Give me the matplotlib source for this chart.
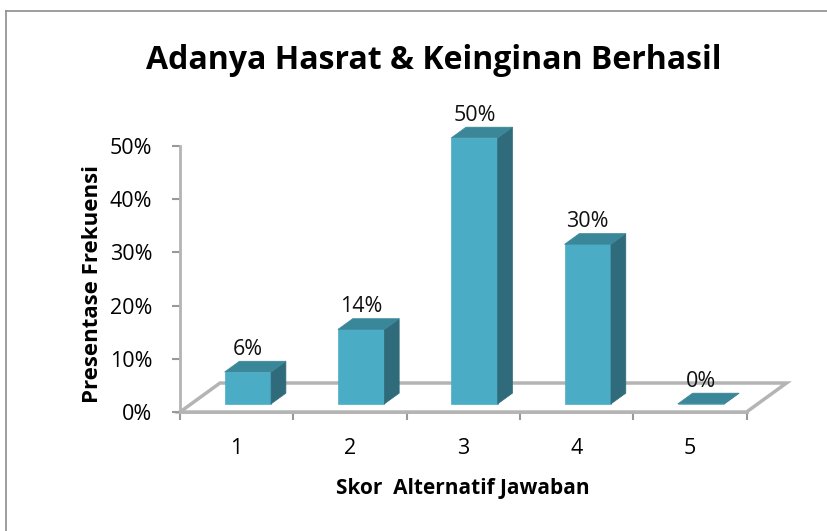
import matplotlib.pyplot as plt
from matplotlib.lines import Line2D
from matplotlib.patches import Polygon
from matplotlib.ticker import FuncFormatter

plt.rcParams["font.family"] = ["Open Sans", "DejaVu Sans"]

title = "Adanya Hasrat & Keinginan Berhasil"
categories = ["1", "2", "3", "4", "5"]
values = [6, 14, 50, 30, 0]
y_ticks = [0, 10, 20, 30, 40, 50]
x_label = "Skor  Alternatif Jawaban"
y_label = "Presentase Frekuensi"

# fake 3D: depth offset of the floor (x in category units, y in percent)
DX, DY = 0.353, 5.45
D_FRONT, D_BACK = 0.28, 0.65
BAR_W = 0.41

front_col = "#4bacc6"
top_col = "#3a8799"
side_col = "#2f6b7b"
line_col = "#b4b4b4"

fig = plt.figure(figsize=(8.28, 5.31), dpi=100)
ax = fig.add_axes([0.2174, 0.2241, 0.7526, 0.551])
ax.set_xlim(-0.5, 5.0)
ax.set_ylim(0, 55)

# floor
n = len(categories)
floor = [(-0.5, 0), (n - 0.5, 0), (n - 0.5 + DX, DY), (-0.5 + DX, DY)]
ax.add_patch(Polygon(floor, closed=True, facecolor="white",
                     edgecolor=line_col, lw=2.5, clip_on=False, zorder=1))

# bars
dd = D_BACK - D_FRONT
for i, v in enumerate(values):
    x0 = i - BAR_W / 2 + D_FRONT * DX
    y0 = D_FRONT * DY
    x1 = x0 + BAR_W
    front = [(x0, y0), (x1, y0), (x1, y0 + v), (x0, y0 + v)]
    side = [(x1, y0), (x1 + dd * DX, y0 + dd * DY),
            (x1 + dd * DX, y0 + v + dd * DY), (x1, y0 + v)]
    top = [(x0, y0 + v), (x1, y0 + v),
           (x1 + dd * DX, y0 + v + dd * DY), (x0 + dd * DX, y0 + v + dd * DY)]
    for poly, col in [(front, front_col), (side, side_col), (top, top_col)]:
        ax.add_patch(Polygon(poly, closed=True, facecolor=col,
                             edgecolor=col, lw=0.5, clip_on=False, zorder=3))
    ax.annotate(f"{v}%", xy=(i + D_FRONT * DX, v + D_BACK * DY),
                xytext=(0, 1), textcoords="offset points",
                ha="center", va="bottom", fontsize=15.5, color="#111111",
                zorder=4)

# axes lines and ticks
for s in ["top", "right"]:
    ax.spines[s].set_visible(False)
ax.spines["left"].set_bounds(0, 50)
ax.spines["bottom"].set_bounds(-0.5, n - 0.5)
for s in ["left", "bottom"]:
    ax.spines[s].set_color(line_col)
    ax.spines[s].set_linewidth(2.0)
    ax.spines[s].set_zorder(2)

ax.set_yticks(y_ticks)
ax.yaxis.set_major_formatter(FuncFormatter(lambda v, p: f"{v:.0f}%"))
ax.tick_params(axis="y", length=6, width=1.5, color="#999999",
               labelsize=15.5, pad=14)

ax.set_xticks(range(n))
ax.set_xticklabels(categories)
ax.set_xticks([i - 0.5 for i in range(n + 1)], minor=True)
ax.tick_params(axis="x", which="major", length=0, labelsize=15.5, pad=19)
ax.tick_params(axis="x", which="minor", length=6, width=1.5, color="#999999")

ax.text((n - 1) / 2, -0.26, x_label, transform=ax.get_xaxis_transform(),
        ha="center", va="center", fontsize=15, fontweight="bold")
ax.text(-0.141, 24, y_label, transform=ax.get_yaxis_transform(),
        ha="center", va="center", rotation=90, fontsize=16, fontweight="bold")

fig.text(0.524, 0.887, title, ha="center", va="center",
         fontsize=23, fontweight="bold")

# chart border (top and left edges visible in the crop)
fig.add_artist(Line2D([6 / 828, 1], [1 - 11 / 531] * 2, color="#8c8c8c", lw=1.2))
fig.add_artist(Line2D([6 / 828] * 2, [0, 1 - 11 / 531], color="#8c8c8c", lw=1.2))

fig.savefig("out.png", dpi=100)
